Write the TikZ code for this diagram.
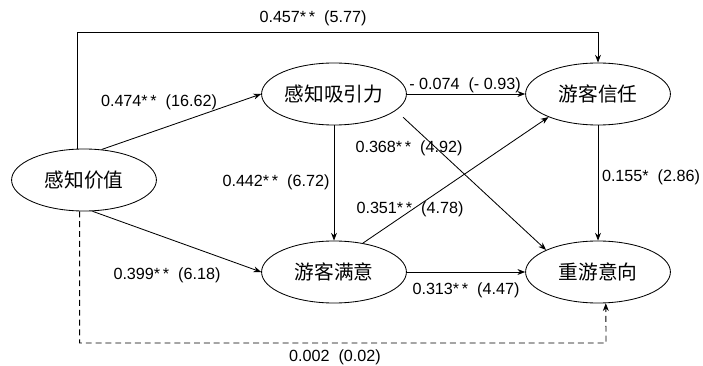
\documentclass[tikz,border=0pt]{standalone}
\usepackage{fontspec}
\setmainfont{Liberation Sans}
\newfontfamily\cjk{Noto Sans CJK SC}
\usetikzlibrary{arrows.meta}
\usepgflibrary{shapes.geometric}

\begin{document}
\begin{tikzpicture}[x=0.025cm, y=-0.025cm, line width=0.6pt,
    latent/.style={draw, ellipse, minimum width=3.62cm, minimum height=1.55cm,
        inner sep=0pt, font=\cjk\fontsize{14}{16}\selectfont},
    effect/.style={-{Stealth[length=5.5pt, width=4.2pt]}},
    coef/.style={inner sep=0pt, font=\fontsize{11.5}{13}\selectfont}]
    \useasboundingbox (0,0) rectangle (703,366);
    \node[latent] (Value) at (84,180) {感知价值};
    \node[latent] (Attract) at (334,94) {感知吸引力};
    \node[latent] (Trust) at (598,94) {游客信任};
    \node[latent] (Satisfy) at (334,272) {游客满意};
    \node[latent] (Revisit) at (598,272) {重游意向};
    \coordinate (TopRight) at (598,32);
    \coordinate (BottomRight) at (606,343);
    \draw[effect] (Value.101) |- (TopRight) -- (Trust.north);
    \draw[effect] (Value.60) -- (Attract.west);
    \draw[effect] (Value.-75) -- (Satisfy.west);
    \draw[effect] (Attract.south) -- (Satisfy.north);
    \draw[effect] (Attract.east) -- (Trust.west);
    \draw[effect, shorten <=7pt] (Attract.-15) -- (Revisit.157);
    \draw[effect] (Satisfy.45) -- (Trust.-155);
    \draw[effect] (Satisfy.east) -- (Revisit.west);
    \draw[effect] (Trust.south) -- (Revisit.north);
    \draw[effect, dash pattern=on 4.2pt off 2.8pt] (Value.-98) |- (BottomRight) -- (Revisit.-76);
    \node[coef] (LblTop) at (313,18) {0.457*\,*\ \ (5.77)};
    \node[coef] (LblVA) at (159,102) {0.474*\,*\ \ (16.62)};
    \node[coef] (LblVS) at (167,275) {0.399*\,*\ \ (6.18)};
    \node[coef] (LblAS) at (276,182) {0.442*\,*\ \ (6.72)};
    \node[coef] (LblAT) at (465,85) {- 0.074\ \ (- 0.93)};
    \node[coef] (LblAR) at (409,148) {0.368*\,*\ \ (4.92)};
    \node[coef] (LblST) at (410,209) {0.351*\,*\ \ (4.78)};
    \node[coef] (LblSR) at (466,290) {0.313*\,*\ \ (4.47)};
    \node[coef] (LblTR) at (651,177) {0.155*\ \ (2.86)};
    \node[coef] (LblVR) at (335,357) {0.002\ \ (0.02)};
\end{tikzpicture}
\end{document}
